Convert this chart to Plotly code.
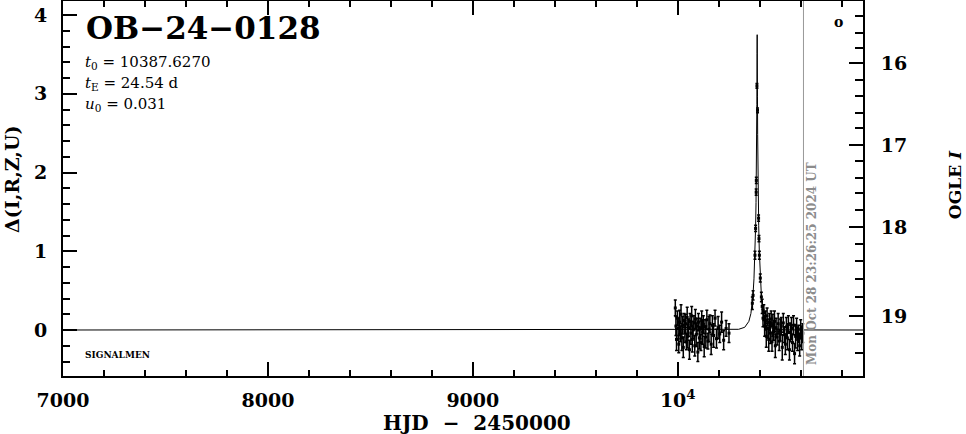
import plotly.graph_objects as go

# ---------------- data ----------------
# OGLE photometry, 2023 season (HJD-2450000, Delta mag, error)
t_2023 = [9988, 9991, 9994, 9998, 10002, 10005, 10009, 10013, 10016, 10020,
          10024, 10027, 10031, 10035, 10038, 10042, 10046, 10049, 10053, 10057,
          10060, 10064, 10068, 10071, 10075, 10079, 10083, 10086, 10090, 10094,
          10098, 10101, 10105, 10109, 10113, 10117, 10121, 10125, 10129, 10133,
          10137, 10142, 10147, 10152, 10157, 10163, 10169, 10175, 10182, 10189,
          10197, 10205, 10214, 10224, 10236, 10250]
d_2023 = [0.28, 0.05, -0.12, 0.15, 0.02, -0.18, 0.10, -0.05, 0.20, -0.10,
          0.06, -0.22, 0.12, -0.02, 0.08, -0.15, 0.16, -0.08, 0.03, -0.25,
          0.11, -0.04, 0.18, -0.12, 0.00, 0.09, -0.20, 0.14, -0.06, 0.05,
          -0.28, 0.10, -0.10, 0.02, -0.16, 0.12, -0.03, 0.07, -0.21, 0.04,
          -0.09, 0.13, -0.14, 0.01, 0.08, -0.18, 0.06, -0.07, 0.15, -0.11,
          0.03, -0.05, 0.10, -0.13, 0.02, -0.04]
e_2023 = [0.10, 0.12, 0.14, 0.09, 0.13, 0.11, 0.15, 0.10, 0.12, 0.16,
          0.11, 0.13, 0.09, 0.14, 0.12, 0.10, 0.13, 0.15, 0.11, 0.12,
          0.10, 0.14, 0.12, 0.16, 0.11, 0.09, 0.13, 0.12, 0.15, 0.10,
          0.12, 0.11, 0.14, 0.13, 0.10, 0.12, 0.15, 0.11, 0.13, 0.09,
          0.14, 0.12, 0.10, 0.16, 0.11, 0.13, 0.12, 0.15, 0.10, 0.12,
          0.14, 0.11, 0.13, 0.12, 0.10, 0.12]

# points on the peak
t_peak = [10364.0, 10367.6, 10376.8, 10379.9, 10382.7, 10383.4, 10386.4,
          10389.3, 10394.4, 10396.3, 10398.4, 10402.8, 10408.1]
d_peak = [0.34, 0.44, 0.95, 1.29, 1.75, 1.90, 3.10,
          2.79, 1.42, 1.16, 0.95, 0.66, 0.42]
e_peak = [0.08, 0.06, 0.05, 0.04, 0.04, 0.04, 0.03,
          0.03, 0.04, 0.04, 0.05, 0.05, 0.06]

# 2024 season after the peak
t_2024 = [10412, 10416, 10420, 10424, 10428, 10432, 10436, 10440, 10444, 10448,
          10452, 10456, 10460, 10464, 10468, 10472, 10476, 10480, 10485, 10490,
          10495, 10500, 10505, 10510, 10515, 10520, 10525, 10530, 10535, 10540,
          10545, 10550, 10555, 10560, 10565, 10570, 10575, 10580, 10585, 10590,
          10595, 10600, 10605, 10610]
d_2024 = [0.30, 0.15, 0.22, 0.05, 0.12, -0.08, 0.18, 0.02, -0.12, 0.10,
          -0.04, 0.14, -0.15, 0.06, -0.02, 0.11, -0.20, 0.03, -0.09, 0.08,
          -0.14, 0.00, 0.05, -0.22, 0.09, -0.06, -0.18, 0.04, -0.10, 0.07,
          -0.25, -0.03, 0.02, -0.16, 0.06, -0.30, -0.08, 0.03, -0.12, -0.05,
          -0.20, 0.01, -0.10, -0.04]
e_2024 = [0.09, 0.11, 0.10, 0.13, 0.12, 0.14, 0.10, 0.12, 0.15, 0.11,
          0.13, 0.10, 0.12, 0.14, 0.11, 0.13, 0.15, 0.12, 0.10, 0.13,
          0.12, 0.14, 0.11, 0.16, 0.12, 0.10, 0.13, 0.12, 0.15, 0.11,
          0.13, 0.12, 0.14, 0.11, 0.12, 0.13, 0.15, 0.12, 0.14, 0.11,
          0.13, 0.12, 0.15, 0.12]

# model curve
t_model = [7000, 10237, 10297, 10327, 10347, 10357, 10367, 10372, 10377, 10380,
           10382, 10383, 10384, 10385, 10386, 10387, 10387.6, 10388, 10389, 10390,
           10391, 10392, 10393, 10395, 10398, 10403, 10408, 10418, 10428, 10448,
           10478, 10538, 10904]
d_model = [0.0, 0.001, 0.009, 0.035, 0.11, 0.21, 0.44, 0.65, 0.99, 1.31,
           1.62, 1.82, 2.07, 2.40, 2.86, 3.51, 3.75, 3.64, 2.97, 2.48,
           2.13, 1.86, 1.65, 1.33, 1.00, 0.66, 0.44, 0.21, 0.11, 0.035,
           0.009, 0.001, 0.0]

# axes
x_ticks = [7000, 8000, 9000, 10000]
x_ticktext = ["7000", "8000", "9000", "10<sup>4</sup>"]
y_ticks = [0, 1, 2, 3, 4]
ogle_I_labels = ["16", "17", "18", "19"]
ogle_I_delta = [3.390, 2.349, 1.308, 0.178]          # Delta position of I = 16..19
ogle_I_minor_delta = [3.987, 3.771, 3.581, 3.175, 2.971, 2.756, 2.565, 2.146,
                      1.930, 1.740, 1.524, 1.092, 0.876, 0.648, 0.419, -0.051, -0.292]

event_name = "OB\u221224\u22120128"
t0_text = "10387.6270"
tE_text = "24.54 d"
u0_text = "0.031"
now_hjd = 10613.48
now_text = "Mon Oct 28 23:26:25 2024 UT"

x_range = [7000, 10904]
y_range = [-0.584, 4.178]

# --------------- figure ---------------
FONT = "DejaVu Serif"
t_all = t_2023 + t_peak + t_2024
d_all = d_2023 + d_peak + d_2024
e_all = e_2023 + e_peak + e_2024

fig = go.Figure()
fig.add_trace(go.Scatter(x=t_model, y=d_model, mode="lines",
                         line=dict(color="black", width=1), showlegend=False,
                         hoverinfo="skip"))
fig.add_trace(go.Scatter(x=t_all, y=d_all, mode="markers",
                         marker=dict(color="black", size=3, symbol="square"),
                         error_y=dict(type="data", array=e_all, color="black",
                                      thickness=1.5, width=1.5),
                         showlegend=False))
# dummy trace for right axis
fig.add_trace(go.Scatter(x=[x_range[0]], y=[0], yaxis="y2", mode="markers",
                         marker=dict(opacity=0), showlegend=False, hoverinfo="skip"))

fig.add_shape(type="line", xref="x", yref="paper", x0=now_hjd, x1=now_hjd, y0=0, y1=1,
              line=dict(color="#999999", width=1))

tickfont = dict(family=FONT, size=19, color="black", weight="bold")
fig.update_layout(
    width=966, height=434,
    margin=dict(l=63, r=103, t=1, b=58),
    paper_bgcolor="white", plot_bgcolor="white",
    showlegend=False,
    xaxis=dict(range=x_range, tickmode="array", tickvals=x_ticks, ticktext=x_ticktext,
               ticks="inside", ticklen=14, tickwidth=1.5, tickcolor="black",
               minor=dict(tickmode="linear", tick0=7000, dtick=200, ticks="inside",
                          ticklen=6, tickwidth=1.5, tickcolor="black"),
               showline=True, linewidth=2, linecolor="black", mirror="ticks",
               showgrid=False, zeroline=False, tickfont=tickfont,
               ticklabelstandoff=6, automargin=False),
    yaxis=dict(range=y_range, tickmode="array", tickvals=y_ticks,
               ticks="inside", ticklen=14, tickwidth=1.5, tickcolor="black",
               minor=dict(tickmode="linear", tick0=0, dtick=0.2, ticks="inside",
                          ticklen=7, tickwidth=1.5, tickcolor="black"),
               showline=True, linewidth=2, linecolor="black",
               showgrid=False, zeroline=False, tickfont=tickfont,
               ticklabelstandoff=10, automargin=False),
    yaxis2=dict(range=y_range, overlaying="y", side="right", tickmode="array",
                tickvals=ogle_I_delta, ticktext=ogle_I_labels,
                ticks="inside", ticklen=14, tickwidth=1.5, tickcolor="black",
                minor=dict(tickmode="array", tickvals=ogle_I_minor_delta, ticks="inside",
                           ticklen=8, tickwidth=1.5, tickcolor="black"),
                showline=True, linewidth=2, linecolor="black",
                showgrid=False, zeroline=False, tickfont=tickfont,
                ticklabelstandoff=12, automargin=False),
)

def ann(text, x, y, size, bold=False, xanchor="left", yanchor="middle",
        angle=0, color="black", xref="paper", yref="paper", xshift=0):
    fig.add_annotation(text=text, x=x, y=y, xref=xref, yref=yref, showarrow=False,
                       xanchor=xanchor, yanchor=yanchor, textangle=angle, xshift=xshift,
                       font=dict(family=FONT, size=size, color=color,
                                 weight="bold" if bold else "normal"))

ann(event_name, 0.0263, 0.928, 31, bold=True)
ann("<i>t</i><sub>0</sub> = " + t0_text, 0.025, 0.835, 15)
ann("<i>t</i><sub>E</sub> = " + tE_text, 0.025, 0.779, 15)
ann("<i>u</i><sub>0</sub> = " + u0_text, 0.025, 0.723, 15)
ann("SIGNALMEN", 0.025, 0.056, 9, bold=True)
ann("o", 0.969, 0.944, 14, bold=True, xanchor="center")
ann("HJD  \u2212  2450000", 0.5175, -0.125, 20, bold=True, xanchor="center")
ann("\u0394(I,R,Z,U)", -0.06375, 0.523, 19, bold=True, xanchor="center", angle=-90)
ann("OGLE <i>I</i>", 1.115, 0.509, 17, bold=True, xanchor="center", angle=-90)
ann(now_text, now_hjd, 0.024, 12, bold=True, xanchor="center", yanchor="bottom",
    angle=-90, color="#8c8c8c", xref="x", xshift=8)

fig.write_html("out.html", config={"displayModeBar": False},
               post_script="document.body.style.margin='0';document.body.style.overflow='hidden';")
